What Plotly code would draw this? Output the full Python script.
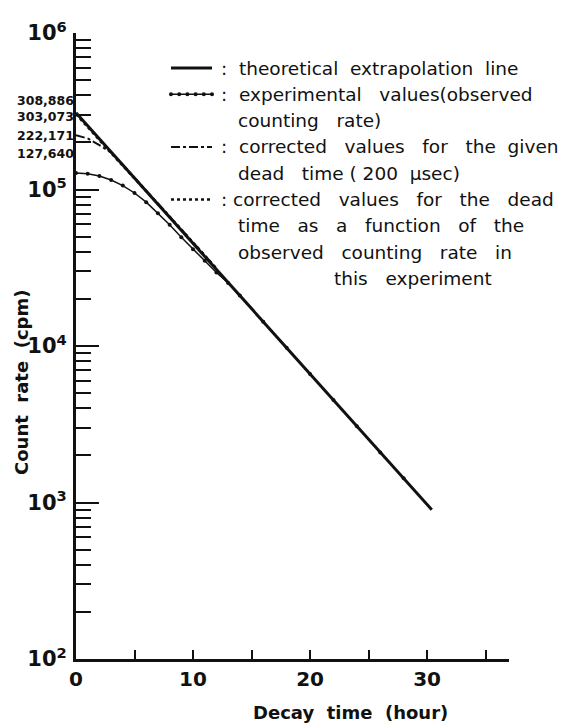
import plotly.graph_objects as go

# ---------------- data ----------------
hours_theory = [0, 30.4]
rate_theory = [308886, 900]

hours_exp = [0, 1, 2, 3, 4, 5, 6, 7, 8, 9, 10, 11, 12, 13, 14, 16, 18, 20, 22, 24, 26, 28]
rate_exp = [127640, 126000, 122000, 115000, 106000, 95000, 83000, 70500, 59500, 49500,
            41500, 35000, 29500, 25300, 21000, 14300, 9730, 6620, 4510, 3070, 2090, 1430]

hours_fixed = [0, 1, 2, 3, 4, 6, 8, 10, 12]
rate_fixed = [222171, 212000, 192000, 172000, 144000, 98500, 67300, 46000, 31400]

hours_var = [0, 1, 2, 3, 4, 6, 8, 10, 12]
rate_var = [303073, 252000, 207000, 171000, 142500, 97500, 67000, 45800, 31300]

start_labels = ["308,886", "303,073", "222,171", "127,640"]

x_tick_vals = [0, 10, 20, 30]
x_tick_text = ["0", "10", "20", "30"]
x_minor_vals = [5, 15, 25, 35]
y_tick_vals = [1e2, 1e3, 1e4, 1e5, 1e6]
y_tick_text = ["10<sup>2</sup>", "10<sup>3</sup>", "10<sup>4</sup>", "10<sup>5</sup>", "10<sup>6</sup>"]

S = "&nbsp;"
legend_rows = [
    ("solid", f":{S} theoretical{S} extrapolation{S} line"),
    ("exp", f":{S} experimental{S}{S} values(observed"),
    (None, f"counting{S}{S} rate)"),
    ("dashdot", f":{S} corrected{S}{S} values{S}{S} for{S}{S} the{S} given"),
    (None, f"dead{S}{S} time{S}({S}200{S} μsec)"),
    ("dot", f":{S}corrected{S}{S} values{S}{S} for{S}{S} the{S}{S} dead"),
    (None, f"time{S}{S} as{S}{S} a{S}{S} function{S}{S} of{S}{S} the"),
    (None, f"observed{S}{S} counting{S}{S} rate{S}{S} in"),
    ("center", f"this{S}{S} experiment"),
]

# ---------------- layout geometry ----------------
W, H = 561, 727
L, R, T, B = 76, 52, 33, 68
PW, PH = W - L - R, H - T - B


def px(xp):
    return (xp - L) / PW


def py(yp):
    return (H - B - yp) / PH


FONT = "DejaVu Sans"
INK = "#111111"
LEG_SIZE = 18.5

fig = go.Figure()

fig.add_trace(go.Scatter(x=hours_exp, y=rate_exp, mode="lines+markers",
                         line=dict(color=INK, width=1.5),
                         marker=dict(color=INK, size=4), showlegend=False))
fig.add_trace(go.Scatter(x=hours_fixed, y=rate_fixed, mode="lines",
                         line=dict(color=INK, width=2, dash="dashdot"), showlegend=False))
fig.add_trace(go.Scatter(x=hours_var, y=rate_var, mode="lines",
                         line=dict(color=INK, width=2.5, dash="dot"), showlegend=False))
fig.add_trace(go.Scatter(x=hours_theory, y=rate_theory, mode="lines",
                         line=dict(color=INK, width=3), showlegend=False))

# ---------------- hand-drawn style legend ----------------
row_y0, row_dy = 68, 26.3
sx0, sx1 = 171, 212
annotations = []
for i, (kind, text) in enumerate(legend_rows):
    yy = row_y0 + i * row_dy
    if kind == "center":
        annotations.append(dict(x=px(332), y=py(yy), xref="paper", yref="paper",
                                text=text, showarrow=False, xanchor="left", yanchor="middle",
                                font=dict(family=FONT, size=LEG_SIZE, color=INK)))
        continue
    if kind is None:
        annotations.append(dict(x=px(236), y=py(yy), xref="paper", yref="paper",
                                text=text, showarrow=False, xanchor="left", yanchor="middle",
                                font=dict(family=FONT, size=LEG_SIZE, color=INK)))
        continue
    annotations.append(dict(x=px(219), y=py(yy), xref="paper", yref="paper",
                            text=text, showarrow=False, xanchor="left", yanchor="middle",
                            font=dict(family=FONT, size=LEG_SIZE, color=INK)))
    if kind == "solid":
        fig.add_trace(go.Scatter(x=[px(sx0), px(sx1)], y=[py(yy), py(yy)], xaxis="x2", yaxis="y2",
                                 mode="lines", line=dict(color=INK, width=3), showlegend=False,
                                 hoverinfo="skip"))
    elif kind == "exp":
        xs = [px(sx0 + k * (sx1 - sx0) / 5) for k in range(6)]
        fig.add_trace(go.Scatter(x=xs, y=[py(yy)] * len(xs), xaxis="x2", yaxis="y2",
                                 mode="lines+markers", line=dict(color=INK, width=1.5),
                                 marker=dict(color=INK, size=4), showlegend=False, hoverinfo="skip"))
    elif kind == "dashdot":
        fig.add_trace(go.Scatter(x=[px(sx0), px(sx1)], y=[py(yy), py(yy)], xaxis="x2", yaxis="y2",
                                 mode="lines", line=dict(color=INK, width=2, dash="dashdot"),
                                 showlegend=False, hoverinfo="skip"))
    elif kind == "dot":
        fig.add_trace(go.Scatter(x=[px(sx0), px(sx1)], y=[py(yy), py(yy)], xaxis="x2", yaxis="y2",
                                 mode="lines", line=dict(color=INK, width=2.5, dash="dot"),
                                 showlegend=False, hoverinfo="skip"))

# start-value labels stacked left of the y axis
label_y = [100, 116, 135, 153]
for text, yy in zip(start_labels, label_y):
    annotations.append(dict(x=px(76), y=py(yy), xref="paper", yref="paper", text=text,
                            showarrow=False, xanchor="right", yanchor="middle",
                            font=dict(family=FONT, size=12.5, color=INK, weight="bold")))

# axis titles
annotations.append(dict(x=px(350), y=py(713), xref="paper", yref="paper",
                        text="Decay&nbsp; time&nbsp; (hour)", showarrow=False,
                        xanchor="center", yanchor="middle",
                        font=dict(family=FONT, size=18, color=INK, weight="bold")))
annotations.append(dict(x=px(21), y=py(383), xref="paper", yref="paper",
                        text="Count&nbsp; rate&nbsp; (cpm)", showarrow=False, textangle=-90,
                        xanchor="center", yanchor="middle",
                        font=dict(family=FONT, size=18, color=INK, weight="bold")))

minor_vals = [k * 10 ** d for d in range(2, 6) for k in range(2, 10)]

fig.update_layout(
    width=W, height=H,
    margin=dict(l=L, r=R, t=T, b=B),
    paper_bgcolor="white", plot_bgcolor="white",
    showlegend=False,
    annotations=annotations,
    xaxis=dict(range=[0, 37], showline=True, linewidth=3, linecolor=INK,
               ticks="inside", ticklen=9, tickwidth=2, tickcolor=INK,
               tickmode="array", tickvals=x_tick_vals, ticktext=x_tick_text,
               minor=dict(ticks="inside", ticklen=9, tickwidth=2, tickcolor=INK,
                          tickmode="array", tickvals=x_minor_vals, showgrid=False),
               showgrid=False, zeroline=False,
               tickfont=dict(family=FONT, size=20, color=INK, weight="bold")),
    yaxis=dict(type="log", range=[2, 6], showline=True, linewidth=3, linecolor=INK,
               ticks="inside", ticklen=23, tickwidth=2, tickcolor=INK,
               tickmode="array", tickvals=y_tick_vals, ticktext=y_tick_text,
               showgrid=False, zeroline=False, ticklabelstandoff=2,
               minor=dict(ticks="inside", ticklen=15, tickwidth=2, tickcolor=INK,
                          tickmode="array", tickvals=minor_vals, showgrid=False),
               tickfont=dict(family=FONT, size=21, color=INK, weight="bold")),
    xaxis2=dict(overlaying="x", range=[0, 1], visible=False),
    yaxis2=dict(overlaying="y", range=[0, 1], visible=False),
)

fig.write_html("out.html")
